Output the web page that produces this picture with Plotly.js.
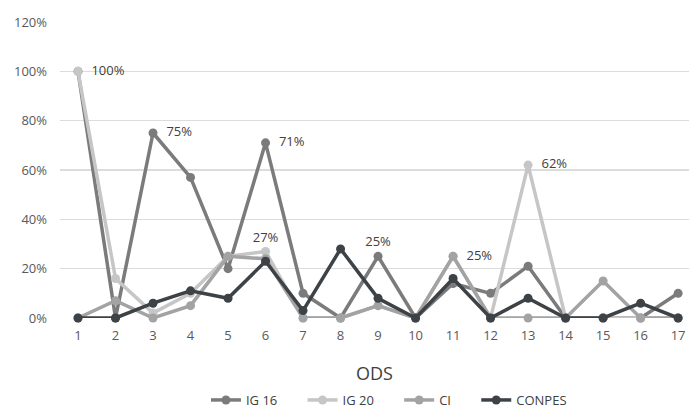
<!DOCTYPE html>
<html>
<head>
<meta charset="utf-8">
<script src="https://cdn.plot.ly/plotly-3.0.1.min.js"></script>
<style>html,body{margin:0;padding:0;background:#fff;}#chart{width:689px;height:415px;}</style>
</head>
<body>
<div id="chart"></div>
<script>
const ods = [1,2,3,4,5,6,7,8,9,10,11,12,13,14,15,16,17];
const ig16   = [100, 0, 75, 57, 20, 71, 10, 0, 25, 0, 14, 10, 21, 0, 0, 0, 10];
const ig20   = [100, 16, 2, 10, 25, 27, 0, 0, 5, 0, 25, 0, 62, 0, 0, 0, 0];
const ci     = [0, 7, 0, 5, 25, 24, 0, 0, 5, 0, 25, 0, 0, 0, 15, 0, 0];
const conpes = [0, 0, 6, 11, 8, 23, 3, 28, 8, 0, 16, 0, 8, 0, 0, 6, 0];
const seriesNames = ['IG 16', 'IG 20', 'CI', 'CONPES'];
const yTickVals = [0, 20, 40, 60, 80, 100, 120];
const yTickText = ['0%', '20%', '40%', '60%', '80%', '100%', '120%'];
// labelled points: index -> position
const ig16Labels = {2: 'middle right', 5: 'middle right', 8: 'top center'};
const ig20Labels = {0: 'middle right', 5: 'top center', 10: 'middle right', 12: 'middle right'};

function labelArrays(vals, labels) {
  const text = vals.map((v, i) => (i in labels) ? (labels[i] === 'middle right' ? '  ' : '') + v + '%' : '');
  const pos = vals.map((v, i) => labels[i] || 'top center');
  return {text, pos};
}
const l16 = labelArrays(ig16, ig16Labels);
const l20 = labelArrays(ig20, ig20Labels);

const colors = ['#7b7b7b', '#c6c6c6', '#a3a3a3', '#3d4246'];
const FONT = 'Open Sans, sans-serif';
const labelFont = {family: FONT, size: 13, color: '#404040'};
const PAD = '\u00a0\u00a0\u00a0\u00a0\u00a0\u00a0';

function mk(name, y, color, lab) {
  const t = {
    x: ods, y: y, name: name, type: 'scatter',
    mode: lab ? 'lines+markers+text' : 'lines+markers',
    line: {color: color, width: 3.5},
    marker: {color: color, size: 9},
    cliponaxis: false,
    hoverinfo: 'skip'
  };
  if (lab) { t.text = lab.text; t.textposition = lab.pos; t.textfont = labelFont; }
  return t;
}

const data = [
  mk(seriesNames[0] + PAD, ig16, colors[0], l16),
  mk(seriesNames[1] + PAD, ig20, colors[1], l20),
  mk(seriesNames[2] + PAD, ci, colors[2]),
  mk(seriesNames[3], conpes, colors[3])
];

const layout = {
  width: 689, height: 415,
  margin: {l: 60, r: 0, t: 22, b: 97},
  paper_bgcolor: '#ffffff', plot_bgcolor: '#ffffff',
  showlegend: true,
  legend: {orientation: 'h', x: 0.523, xanchor: 'center', yref: 'container', y: 0.0, yanchor: 'bottom',
           font: {family: FONT, size: 13, color: '#404040'}},
  xaxis: {
    range: [0.52, 17.29], tickvals: ods, ticktext: ods.map(String), automargin: false,
    showgrid: false, zeroline: false, showline: false, ticks: '', ticklabelstandoff: 8,
    tickfont: {family: FONT, size: 13, color: '#595959'},
    title: {text: 'ODS', font: {family: FONT, size: 18, color: '#404040'}, standoff: 27}
  },
  yaxis: {
    range: [0, 120], tickvals: yTickVals, ticktext: yTickText, automargin: false,
    showgrid: true, gridcolor: '#dcdcdc', gridwidth: 1.5, zeroline: false, showline: false,
    ticks: '', ticklabelstandoff: 12,
    tickfont: {family: FONT, size: 13, color: '#595959'}
  },
  font: {family: FONT}
};

Plotly.newPlot('chart', data, layout, {displayModeBar: false, staticPlot: true});
</script>
</body>
</html>
